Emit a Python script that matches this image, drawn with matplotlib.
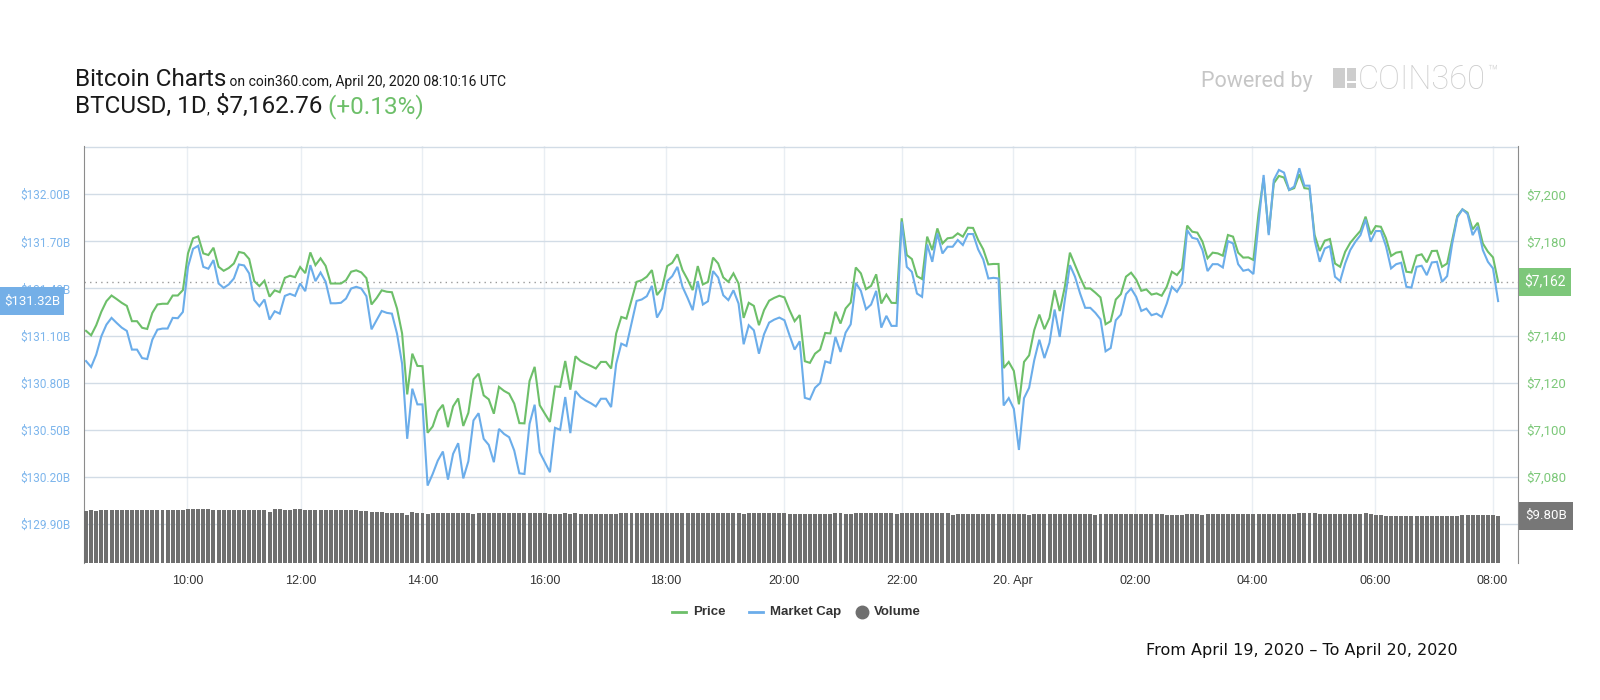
import numpy as np
import matplotlib
matplotlib.use('Agg')
import matplotlib.pyplot as plt
from matplotlib.patches import Rectangle
from matplotlib.lines import Line2D

plt.rcParams['font.family'] = ['Roboto', 'DejaVu Sans']

# ---- data (5 minute candles, ordinal axis) ----
price = [
    7142.0, 7140.1, 7144.4, 7150.1, 7154.6, 7157.0, 7155.5, 7153.9, 7152.6, 7146.1,
    7146.1, 7143.3, 7142.8, 7149.6, 7153.2, 7153.5, 7153.5, 7157.0, 7157.0, 7159.3,
    7174.9, 7181.3, 7182.1, 7174.9, 7174.2, 7177.3, 7169.2, 7167.5, 7168.7, 7170.6,
    7175.5, 7175.0, 7172.5, 7163.1, 7161.0, 7163.3, 7156.5, 7159.2, 7158.4, 7164.5,
    7165.4, 7164.8, 7169.1, 7166.5, 7175.3, 7169.9, 7172.8, 7169.6, 7162.1, 7162.1,
    7162.1, 7163.5, 7167.1, 7167.7, 7166.8, 7164.4, 7153.2, 7155.9, 7159.2, 7158.6,
    7158.4, 7151.5, 7140.9, 7115.0, 7132.3, 7127.1, 7127.0, 7098.7, 7101.4, 7107.8,
    7110.6, 7101.1, 7109.9, 7113.3, 7101.6, 7107.2, 7121.4, 7123.8, 7114.6, 7112.9,
    7106.8, 7118.2, 7116.5, 7115.3, 7111.1, 7102.8, 7102.7, 7120.7, 7126.7, 7110.4,
    7106.8, 7103.3, 7118.4, 7118.2, 7129.2, 7117.0, 7131.2, 7129.2,
    7128.1, 7127.1, 7126.0, 7128.8, 7128.8, 7126.0, 7140.9, 7147.9, 7147.2, 7155.0,
    7162.8, 7163.5, 7165.0, 7167.8, 7157.2, 7160.0, 7169.5, 7170.9, 7174.5, 7167.8,
    7163.8, 7159.3, 7169.5, 7161.7, 7162.8, 7173.1, 7170.6, 7164.7, 7162.8, 7166.4,
    7162.1, 7147.5, 7153.9, 7152.6, 7144.4, 7150.8, 7154.8, 7156.0, 7156.9, 7156.2,
    7150.8, 7146.1, 7148.7, 7129.1, 7128.4, 7132.3, 7134.0, 7141.1, 7140.9, 7150.1,
    7145.1, 7151.5, 7154.0, 7168.9, 7166.4, 7159.7, 7161.1, 7166.0, 7153.6, 7157.4,
    7153.9, 7153.8, 7189.8, 7174.2, 7172.5, 7165.2, 7164.0, 7182.0, 7176.3, 7185.5,
    7179.1, 7181.3, 7181.6, 7183.4, 7182.0, 7185.8, 7185.7, 7180.6, 7176.6, 7170.2,
    7170.4, 7170.4, 7126.2, 7128.8, 7125.0, 7110.8, 7128.8, 7131.6, 7142.3, 7148.9,
    7142.7, 7147.5, 7159.3, 7150.4,
    7160.7, 7175.2, 7170.0, 7164.7, 7160.0, 7160.0, 7158.2, 7156.2, 7144.8, 7146.1,
    7155.3, 7157.6, 7165.0, 7166.7, 7163.8, 7159.0, 7159.6, 7157.4, 7157.9, 7156.9,
    7160.7, 7167.1, 7165.7, 7168.5, 7186.7, 7184.1, 7183.7, 7179.9, 7172.8, 7175.2,
    7174.9, 7173.9, 7182.7, 7182.0, 7175.2, 7173.1, 7173.2, 7172.1, 7191.9, 7206.8,
    7183.4, 7204.7, 7207.8, 7207.1, 7201.8, 7202.6, 7208.5, 7202.6, 7202.3, 7182.7,
    7175.9, 7180.3, 7181.0, 7170.6, 7169.2, 7175.6, 7179.4, 7182.0, 7184.5, 7190.5,
    7183.0, 7186.5, 7186.2, 7181.3, 7173.8, 7175.2, 7175.6, 7167.1, 7166.8, 7173.9,
    7174.5, 7171.1, 7175.9, 7176.0, 7169.2, 7170.6, 7180.6, 7190.8, 7193.6, 7192.2,
    7185.1, 7187.9, 7179.1, 7175.6, 7173.2, 7162.76,
]

market_cap = [  # billions USD
    130.938, 130.900, 130.979, 131.096, 131.170, 131.213, 131.181, 131.151, 131.130, 131.011,
    131.011, 130.957, 130.951, 131.074, 131.138, 131.145, 131.145, 131.213, 131.211, 131.251,
    131.538, 131.653, 131.672, 131.538, 131.526, 131.581, 131.432, 131.404, 131.426, 131.464,
    131.553, 131.547, 131.496, 131.326, 131.287, 131.330, 131.202, 131.255, 131.240, 131.353,
    131.366, 131.353, 131.432, 131.383, 131.549, 131.447, 131.502, 131.443, 131.306, 131.306,
    131.309, 131.336, 131.400, 131.411, 131.400, 131.351, 131.140, 131.198, 131.257, 131.245,
    131.240, 131.113, 130.921, 130.443, 130.762, 130.662, 130.662, 130.145, 130.219, 130.304,
    130.362, 130.183, 130.347, 130.415, 130.191, 130.300, 130.560, 130.606, 130.443, 130.404,
    130.294, 130.506, 130.474, 130.453, 130.368, 130.223, 130.219, 130.538, 130.660, 130.357,
    130.294, 130.230, 130.513, 130.500, 130.709, 130.479, 130.747, 130.709,
    130.687, 130.670, 130.649, 130.698, 130.698, 130.645, 130.921, 131.049, 131.034, 131.177,
    131.321, 131.330, 131.351, 131.417, 131.215, 131.272, 131.447, 131.479, 131.538, 131.411,
    131.340, 131.262, 131.447, 131.298, 131.319, 131.511, 131.470, 131.357, 131.326, 131.389,
    131.304, 131.045, 131.166, 131.134, 130.985, 131.109, 131.183, 131.202, 131.215, 131.198,
    131.102, 131.011, 131.064, 130.704, 130.694, 130.768, 130.798, 130.936, 130.926, 131.092,
    130.996, 131.119, 131.172, 131.436, 131.385, 131.268, 131.298, 131.385, 131.151, 131.226,
    131.162, 131.162, 131.826, 131.538, 131.506, 131.368, 131.347, 131.681, 131.570, 131.751,
    131.623, 131.666, 131.666, 131.709, 131.677, 131.747, 131.747, 131.649, 131.585, 131.464,
    131.468, 131.464, 130.655, 130.702, 130.634, 130.372, 130.702, 130.768, 130.943, 131.074,
    130.957, 131.055, 131.266, 131.092,
    131.326, 131.549, 131.475, 131.368, 131.277, 131.277, 131.245, 131.204, 131.000, 131.021,
    131.198, 131.234, 131.364, 131.400, 131.347, 131.257, 131.272, 131.230, 131.240, 131.219,
    131.304, 131.411, 131.379, 131.432, 131.772, 131.723, 131.715, 131.645, 131.511, 131.555,
    131.555, 131.534, 131.702, 131.687, 131.555, 131.513, 131.521, 131.492, 131.815, 132.123,
    131.740, 132.092, 132.155, 132.138, 132.028, 132.049, 132.166, 132.055, 132.055, 131.709,
    131.570, 131.655, 131.670, 131.475, 131.447, 131.560, 131.645, 131.698, 131.740, 131.840,
    131.698, 131.766, 131.766, 131.670, 131.528, 131.555, 131.564, 131.411, 131.406, 131.538,
    131.545, 131.485, 131.566, 131.570, 131.443, 131.479, 131.687, 131.853, 131.904, 131.874,
    131.740, 131.794, 131.645, 131.570, 131.528, 131.32,
]

volume = [  # billions USD
    10.01, 10.05, 10.01, 10.05, 10.05, 10.05, 10.05, 10.05, 10.05, 10.05,
    10.05, 10.05, 10.05, 10.05, 10.05, 10.05, 10.05, 10.05, 10.05, 10.05,
    10.10, 10.10, 10.10, 10.10, 10.10, 10.05, 10.05, 10.05, 10.05, 10.05,
    10.05, 10.05, 10.05, 10.05, 10.05, 10.05, 9.96, 10.10, 10.10, 10.05,
    10.05, 10.10, 10.10, 10.05, 10.05, 10.05, 10.05, 10.05, 10.05, 10.05,
    10.05, 10.05, 10.05, 10.05, 10.01, 10.01, 9.96, 9.96, 9.96, 9.92,
    9.92, 9.92, 9.92, 9.83, 9.96, 9.92, 9.92, 9.87, 9.92, 9.92,
    9.92, 9.92, 9.92, 9.92, 9.92, 9.92, 9.87, 9.92, 9.92, 9.92,
    9.92, 9.92, 9.92, 9.92, 9.92, 9.92, 9.92, 9.92, 9.92, 9.92,
    9.92, 9.87, 9.87, 9.87, 9.92, 9.87, 9.92, 9.87, 9.87, 9.87,
    9.87, 9.87, 9.87, 9.87, 9.87, 9.92, 9.92, 9.92, 9.92, 9.92,
    9.92, 9.92, 9.92, 9.92, 9.92, 9.92, 9.92, 9.92, 9.92, 9.92,
    9.92, 9.92, 9.92, 9.92, 9.92, 9.92, 9.92, 9.92, 9.92, 9.87,
    9.92, 9.92, 9.92, 9.92, 9.92, 9.92, 9.92, 9.92, 9.87, 9.87,
    9.87, 9.87, 9.87, 9.87, 9.87, 9.87, 9.87, 9.92, 9.92, 9.87,
    9.87, 9.92, 9.92, 9.92, 9.92, 9.92, 9.92, 9.92, 9.92, 9.87,
    9.92, 9.92, 9.92, 9.92, 9.92, 9.92, 9.92, 9.92, 9.92, 9.92,
    9.83, 9.87, 9.87, 9.87, 9.87, 9.87, 9.87, 9.87, 9.87, 9.87,
    9.87, 9.87, 9.87, 9.87, 9.87, 9.83, 9.87, 9.87, 9.87, 9.87,
    9.87, 9.87, 9.87, 9.87, 9.87, 9.87, 9.87, 9.87, 9.83, 9.87,
    9.87, 9.87, 9.87, 9.87, 9.87, 9.87, 9.87, 9.87, 9.87, 9.87,
    9.87, 9.87, 9.83, 9.83, 9.83, 9.83, 9.87, 9.87, 9.87, 9.83,
    9.87, 9.87, 9.87, 9.87, 9.87, 9.87, 9.87, 9.87, 9.87, 9.87,
    9.87, 9.87, 9.87, 9.87, 9.87, 9.87, 9.87, 9.87, 9.92, 9.92,
    9.92, 9.92, 9.87, 9.87, 9.87, 9.87, 9.87, 9.87, 9.87, 9.87,
    9.87, 9.92, 9.87, 9.83, 9.83, 9.80, 9.80, 9.80, 9.80, 9.80,
    9.80, 9.80, 9.80, 9.80, 9.80, 9.80, 9.80, 9.80, 9.80, 9.80,
    9.83, 9.83, 9.83, 9.83, 9.83, 9.83, 9.83, 9.80,
]

tick_labels = ['10:00', '12:00', '14:00', '16:00', '18:00', '20:00',
               '22:00', '20. Apr', '02:00', '04:00', '06:00', '08:00']
tick_index = [19.9, 42.1, 66.0, 89.9, 113.8, 137.0, 160.0, 181.9, 205.8, 228.8, 252.8, 275.9]

price_ticks = [7060, 7080, 7100, 7120, 7140, 7160, 7180, 7200, 7220]
mcap_ticks = [129.90, 130.20, 130.50, 130.80, 131.10, 131.40, 131.70, 132.00]

last_price = 7162.76
change_pct = 0.13

GREEN = '#6dbf69'
BLUE = '#6badea'
GREEN_TXT = '#7cc879'
BLUE_TXT = '#7cb5ec'
W, H = 1600, 700

fig = plt.figure(figsize=(16, 7), dpi=100)
fig.patch.set_facecolor('white')

x = np.arange(len(price))

ax_p = fig.add_axes([84 / W, 1 - 563 / H, 1434 / W, 417 / H])
ax_v = ax_p.twinx()
ax_m = ax_p.twinx()

ax_p.set_xlim(-0.4, 280.9)
ax_p.set_ylim(7043.4, 7220.5)
ax_p.plot(x, price, color=GREEN, lw=1.5, zorder=3, solid_joinstyle='miter')
ax_p.axhline(last_price, color='#9a9a9a', lw=1, ls=(0, (1, 3)), zorder=2)
ax_p.set_yticks(price_ticks)
# 7,160 sits under the current-price box, the outer two are not labelled
ax_p.set_yticklabels(['' if v in (7060, 7160, 7220) else '${:,}'.format(v)
                      for v in price_ticks])
ax_p.yaxis.tick_right()
ax_p.tick_params(axis='y', length=0, pad=6, labelsize=9.5, labelcolor=GREEN_TXT)
ax_p.set_xticks(tick_index)
ax_p.set_xticklabels(tick_labels, family=['Liberation Sans', 'DejaVu Sans'])
ax_p.tick_params(axis='x', length=0, pad=15, labelsize=9, labelcolor='#333333')
for lab in ax_p.get_xticklabels():
    lab.set_va('baseline')
ax_p.grid(axis='y', color='#d2dce6', lw=1)
ax_p.grid(axis='x', color='#e9eef3', lw=1)
for s in ['top', 'bottom']:
    ax_p.spines[s].set_visible(False)
for s in ['left', 'right']:
    ax_p.spines[s].set_color('#8c8c8c')

# volume on its own scale
ax_v.bar(x, volume, width=0.78, color='#6f6f6f', zorder=2)
ax_v.set_ylim(7.68, 26.38)
ax_v.set_yticks([])
for s in ax_v.spines.values():
    s.set_visible(False)

# market cap, labels on the left
ax_m.plot(x, market_cap, color=BLUE, lw=1.5, zorder=4, solid_joinstyle='miter')
ax_m.set_ylim(129.652, 132.3076)
ax_m.set_yticks(mcap_ticks)
ax_m.set_yticklabels(['${:.2f}B'.format(v) for v in mcap_ticks])
ax_m.yaxis.tick_left()
ax_m.tick_params(axis='y', length=0, pad=10, labelsize=8.5, labelcolor=BLUE_TXT)
for s in ax_m.spines.values():
    s.set_visible(False)


def frect(x0, y0, x1, y1, color, z=5):
    fig.add_artist(Rectangle((x0 / W, 1 - y1 / H), (x1 - x0) / W, (y1 - y0) / H,
                             transform=fig.transFigure, facecolor=color,
                             edgecolor='none', zorder=z))


def value_box(ax, val, x0, x1, color, text, size):
    yc = H - ax.transData.transform((0, val))[1]
    frect(x0, yc - 14, x1, yc + 14, color)
    fig.text((x0 + x1) / 2 / W, 1 - yc / H, text, ha='center', va='center',
             color='white', fontsize=size, zorder=6)


value_box(ax_p, last_price, 1519, 1571, '#7dc77a', '${:,}'.format(int(last_price)), 10)
value_box(ax_m, market_cap[-1], 0, 64, '#74afe7', '${:.2f}B'.format(market_cap[-1]), 9.5)
value_box(ax_v, volume[-1], 1519, 1573, '#777777', '${:.2f}B'.format(volume[-1]), 9.5)

fig.canvas.draw()
renderer = fig.canvas.get_renderer()


def run(x0, y, pieces, va='baseline', **kw):
    xp = x0
    for txt, size, color in pieces:
        t = fig.text(xp / W, 1 - y / H, txt, fontsize=size, color=color,
                     ha='left', va=va, **kw)
        xp = t.get_window_extent(renderer).x1
    return xp


# header
run(75, 86, [('Bitcoin Charts', 17.5, '#1a1a1a'),
             (' on coin360.com, April 20, 2020 08:10:16 UTC', 10, '#1a1a1a')])
run(75, 113, [('BTCUSD, 1D', 17.5, '#1a1a1a'), (',', 10, '#1a1a1a'),
              (' ${:,.2f}'.format(last_price), 17.5, '#1a1a1a'),
              (' (+{:.2f}%)'.format(change_pct), 17.5, GREEN)])

# powered by logo
fig.text(1201 / W, 1 - 81 / H, 'Powered by', fontsize=15.5, color='#c6c6c6',
         ha='left', va='center')
frect(1333, 68, 1345, 88, '#cdcdcd')
frect(1347, 68, 1356, 81, '#cdcdcd')
frect(1347, 83, 1356, 88, '#cdcdcd')
end = run(1358, 89, [('COIN360', 23.5, '#cdcdcd')], fontweight='light')
fig.text((end + 1) / W, 1 - 72 / H, '\u2122', fontsize=12, color='#cdcdcd',
         ha='left', va='center', fontweight='light')

# legend
ly = 612
legend_kw = dict(va='center', fontweight='bold', family=['Liberation Sans', 'DejaVu Sans'])
fig.add_artist(Line2D([672 / W, 686 / W], [1 - ly / H] * 2, color=GREEN, lw=2,
                      transform=fig.transFigure))
end = run(693, ly, [('Price', 9.5, '#333333')], **legend_kw)
fig.add_artist(Line2D([(end + 23) / W, (end + 37) / W], [1 - ly / H] * 2, color=BLUE,
                      lw=2, transform=fig.transFigure))
end = run(end + 44, ly, [('Market Cap', 9.5, '#333333')], **legend_kw)
fig.add_artist(Line2D([(end + 21) / W], [1 - ly / H], marker='o', markersize=9,
                      color='#6f6f6f', transform=fig.transFigure))
run(end + 33, ly, [('Volume', 9.5, '#333333')], **legend_kw)

# footer
fig.text(1146 / W, 1 - 651 / H, 'From April 19, 2020 \u2013 To April 20, 2020',
         fontsize=11.5, color='#111111', family='DejaVu Sans', ha='left', va='center')

fig.savefig('out.png', dpi=100, facecolor='white')
